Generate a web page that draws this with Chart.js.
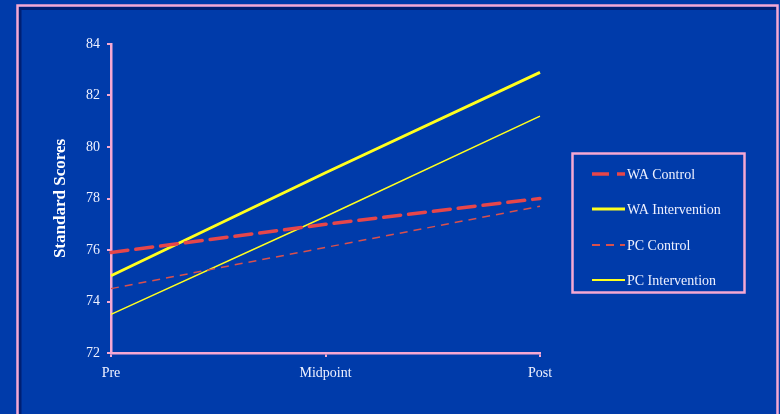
<!DOCTYPE html>
<html>
<head>
<meta charset="utf-8">
<style>
  html, body { margin: 0; padding: 0; background: #003BAA; }
  #wrap { position: relative; width: 780px; height: 414px; }
</style>
<script src="https://cdn.jsdelivr.net/npm/chart.js@4/dist/chart.umd.min.js"></script>
</head>
<body>
<div id="wrap"><canvas id="c" width="780" height="414"></canvas></div>
<script>
// Time points and group means
const categories = ['Pre', 'Midpoint', 'Post'];
const waControl = [75.9, 77.0, 78.0];
const waIntervention = [75.0, 79.0, 82.9];
const pcControl = [74.5, 76.1, 77.7];
const pcIntervention = [73.5, 77.3, 81.2];
const seriesNames = ['WA Control', 'WA Intervention', 'PC Control', 'PC Intervention'];

const BG = '#003BAA';
const PINK = '#F5A8D2';
const TEXT = '#EEF1FF';
const RED = '#E6464A';
const YELLOW = '#FFFF1E';
const SERIF = "'Liberation Serif', 'Times New Roman', serif";

// Slide frame and background
const framePlugin = {
  id: 'frame',
  beforeDraw(chart) {
    const ctx = chart.ctx;
    ctx.save();
    ctx.fillStyle = BG;
    ctx.fillRect(0, 0, chart.width, chart.height);
    // soft shadow inside the frame
    ctx.strokeStyle = 'rgba(0,10,70,0.55)';
    ctx.lineWidth = 3;
    ctx.beginPath();
    ctx.moveTo(20, 430); ctx.lineTo(20, 8.5); ctx.lineTo(776, 8.5);
    ctx.stroke();
    ctx.strokeStyle = PINK;
    ctx.lineWidth = 2.5;
    ctx.strokeRect(17.5, 5.5, 760, 440);
    ctx.restore();
  }
};

// Boxed legend to the right of the plot
const boxLegend = {
  id: 'boxLegend',
  afterDraw(chart) {
    const ctx = chart.ctx;
    ctx.save();
    ctx.strokeStyle = PINK;
    ctx.lineWidth = 2.5;
    ctx.strokeRect(572.5, 153.5, 172, 139);
    const rows = [174, 209, 245, 280];
    chart.data.datasets.forEach((ds, i) => {
      const y = rows[i];
      ctx.strokeStyle = ds.borderColor;
      ctx.lineWidth = Math.max(ds.borderWidth, 2);
      ctx.setLineDash(ds.borderDash || []);
      ctx.beginPath();
      ctx.moveTo(592, y);
      ctx.lineTo(625, y);
      ctx.stroke();
      ctx.setLineDash([]);
      ctx.fillStyle = TEXT;
      ctx.font = '14px ' + SERIF;
      ctx.textBaseline = 'middle';
      ctx.textAlign = 'left';
      ctx.fillText(ds.label, 627, y + 1);
    });
    ctx.restore();
  }
};

new Chart(document.getElementById('c'), {
  type: 'line',
  data: {
    labels: categories,
    datasets: [
      { label: seriesNames[0], data: waControl, borderColor: RED, borderWidth: 3.5, borderDash: [17, 8], borderCapStyle: 'round' },
      { label: seriesNames[1], data: waIntervention, borderColor: YELLOW, borderWidth: 3 },
      { label: seriesNames[2], data: pcControl, borderColor: '#D9504C', borderWidth: 1.5, borderDash: [8, 6] },
      { label: seriesNames[3], data: pcIntervention, borderColor: YELLOW, borderWidth: 1.5 }
    ].map(d => Object.assign({ pointRadius: 0, tension: 0, fill: false }, d))
  },
  options: {
    responsive: false,
    animation: false,
    layout: { padding: { left: 20, right: 240, top: 44, bottom: 0 } },
    plugins: { legend: { display: false }, tooltip: { enabled: false } },
    scales: {
      x: {
        offset: false,
        grid: { display: true, drawOnChartArea: false, drawTicks: true, tickLength: 4, color: PINK, lineWidth: 2 },
        border: { color: PINK, width: 2.5 },
        ticks: { color: TEXT, font: { family: SERIF, size: 14 }, padding: 8, maxRotation: 0, autoSkip: false },
        afterFit(s) { s.height = 61; }
      },
      y: {
        min: 72, max: 84,
        grid: { display: true, drawOnChartArea: false, drawTicks: true, tickLength: 4, color: PINK, lineWidth: 2 },
        border: { color: PINK, width: 2.5 },
        ticks: { stepSize: 2, color: TEXT, font: { family: SERIF, size: 14 }, padding: 7 },
        title: {
          display: true, text: 'Standard Scores', color: '#FFFFFF',
          font: { family: SERIF, size: 17, weight: 'bold' },
          padding: { top: 30, bottom: 0 }
        },
        afterFit(s) { s.width = 91; }
      }
    }
  },
  plugins: [framePlugin, boxLegend]
});
</script>
</body>
</html>
